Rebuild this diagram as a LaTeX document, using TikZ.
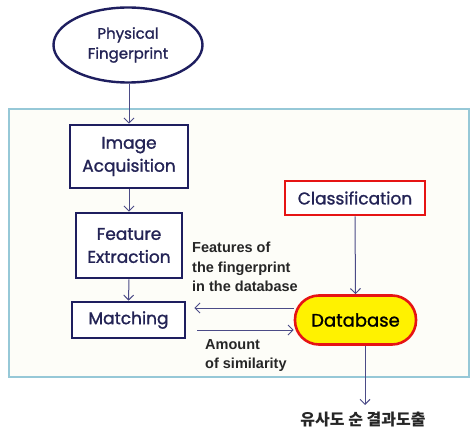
\documentclass[tikz,border=0pt]{standalone}
\usepackage{fontspec}
\usetikzlibrary{shapes.geometric,arrows.meta,calc}
\newfontfamily\boxfont{Poppins}[FakeBold=1.2]
\newfontfamily\lblfont{Liberation Sans}
\newfontfamily\kofont{Noto Sans CJK KR}
\definecolor{navy}{RGB}{30,30,95}
\definecolor{txtnavy}{RGB}{35,35,85}
\definecolor{arrcol}{RGB}{75,75,135}
\definecolor{redc}{RGB}{230,20,20}
\definecolor{outerblue}{RGB}{150,200,215}
\definecolor{outerfill}{RGB}{253,253,248}
\tikzset{
  stepbox/.style={draw=navy, line width=2.6pt, fill=white, inner sep=0pt, align=center,
    text=txtnavy, font=\boxfont\fontsize{17}{23}\selectfont},
  ellbox/.style={ellipse, draw=navy, line width=2.4pt, fill=white, inner sep=0pt, align=center,
    text=txtnavy, font=\boxfont\fontsize{15}{20}\selectfont},
  redbox/.style={draw=redc, line width=2.6pt, fill=white, inner sep=0pt, align=center,
    text=txtnavy, font=\boxfont\fontsize{17}{23}\selectfont},
  dbbox/.style={draw=redc, line width=2.6pt, fill=yellow, rounded corners=24pt, inner sep=0pt,
    align=center, text=black, font=\boxfont\fontsize{18}{23}\selectfont},
  framebox/.style={draw=outerblue, line width=2pt, fill=outerfill, inner sep=0pt},
  arr/.style={draw=arrcol, line width=1pt, -{Straight Barb[length=5pt,width=10pt]}},
  lbl/.style={inner sep=0pt, align=left, anchor=north west, text=black!85,
    font=\lblfont\bfseries\fontsize{14.5}{19.5}\selectfont},
  kolbl/.style={inner sep=0pt, text=black!85, font=\kofont\bfseries\fontsize{16}{20}\selectfont}
}
\begin{document}
\begin{tikzpicture}[x=1pt,y=-1pt]
\useasboundingbox (0,0) rectangle (470,430);
\node[framebox, minimum width=460pt, minimum height=268pt] (frame) at (238.5,243) {};
\node[ellbox, minimum width=149pt, minimum height=75pt] (pf) at (128,45) {Physical\\Fingerprint};
\node[stepbox, minimum width=118pt, minimum height=63pt] (ia) at (129,156.5) {Image\\Acquisition};
\node[stepbox, minimum width=106pt, minimum height=65pt] (fe) at (129,245.5) {Feature\\Extraction};
\node[stepbox, minimum width=113pt, minimum height=36pt] (ma) at (128.5,320) {Matching};
\node[redbox, minimum width=140pt, minimum height=34pt] (cl) at (355,198) {Classification};
\node[dbbox, minimum width=121pt, minimum height=49pt] (db) at (355.5,320) {Database};
\draw[arr] (pf.south -| ia.north) -- (ia.north);
\draw[arr] (ia.south) -- (fe.north);
\draw[arr] (fe.south) -- (ma.north);
\draw[arr] (cl.south) -- (db.north);
\draw[arr] ($(db.west)+(0,-12)$) -- ($(ma.east)+(8,-12)$);
\draw[arr] ($(ma.east)+(11,10)$) -- ($(db.west)+(0,10)$);
\coordinate (outpt) at (365,405);
\draw[arr] (outpt |- db.south) -- (outpt);
\node[lbl] (l1) at (192,242) {Features of\\the fingerprint\\in the database};
\node[lbl] (l2) at (205,339) {Amount\\of similarity};
\node[kolbl] (ko) at (363,420) {유사도 순 결과도출};
\end{tikzpicture}
\end{document}
